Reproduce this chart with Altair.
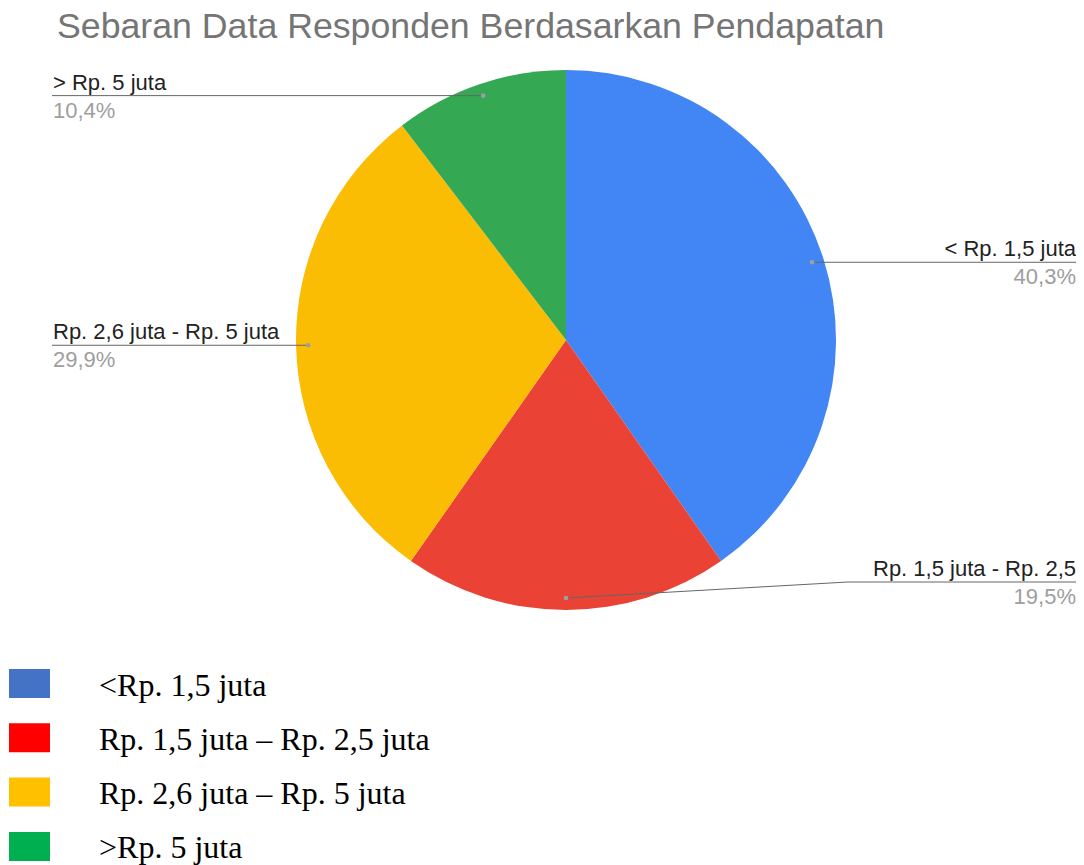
import altair as alt
import pandas as pd

# ---- data ----
categories = ["< Rp. 1,5 juta", "Rp. 1,5 juta - Rp. 2,5", "Rp. 2,6 juta - Rp. 5 juta", "> Rp. 5 juta"]
values = [40.3, 19.5, 29.9, 10.4]
pct_labels = ["40,3%", "19,5%", "29,9%", "10,4%"]
pie_colors = ["#4285F4", "#EA4335", "#FBBC04", "#34A853"]

legend_labels = ["<Rp. 1,5 juta", "Rp. 1,5 juta \u2013 Rp. 2,5 juta", "Rp. 2,6 juta \u2013 Rp. 5 juta", ">Rp. 5 juta"]
legend_colors = ["#4472C4", "#FF0000", "#FFC000", "#00B050"]

TITLE = "Sebaran Data Responden Berdasarkan Pendapatan"

# ---- layout constants ----
W, H = 1068, 807
CX, CY, R = 558, 282, 270
DOT_R = 258
LINE_MAX_Y = 524
LEFT_X = 44

df = pd.DataFrame({"cat": categories, "value": values, "pct": pct_labels, "idx": list(range(len(values)))})
leg = pd.DataFrame({"label": legend_labels, "color": legend_colors, "idx": list(range(len(legend_labels)))})

base = alt.Chart(df)

pie = base.mark_arc(outerRadius=R).encode(
    theta=alt.Theta("value:Q", stack=True),
    color=alt.Color("cat:N", scale=alt.Scale(domain=categories, range=pie_colors), legend=None),
    order=alt.Order("idx:Q"),
    x=alt.value(CX),
    y=alt.value(CY),
)

geo = base.transform_joinaggregate(total="sum(value)").transform_window(
    cum="sum(value)", sort=[alt.SortField("idx")], frame=[None, 0]
).transform_calculate(
    mid="(datum.cum - datum.value/2)/datum.total",
).transform_calculate(
    ang="datum.mid*2*PI",
    side="datum.mid < 0.51 ? 1 : -1",
).transform_calculate(
    dotx=f"{CX} + {DOT_R}*sin(datum.ang)",
    doty=f"{CY} - {DOT_R}*cos(datum.ang)",
).transform_calculate(
    liney=f"min(datum.doty, {LINE_MAX_Y})",
    elbx=f"{CX} + datum.side*{R + 12}",
    endx=f"datum.side > 0 ? {W} : {LEFT_X}",
).transform_calculate(
    laby="datum.liney - 6",
    pcty="datum.liney + 22",
)

seg1 = geo.mark_rule(color="#666666", strokeWidth=1).encode(
    x=alt.X("dotx:Q", scale=None), y=alt.Y("doty:Q", scale=None),
    x2="elbx:Q", y2="liney:Q",
)
seg2 = geo.mark_rule(color="#666666", strokeWidth=1).encode(
    x=alt.X("elbx:Q", scale=None), y=alt.Y("liney:Q", scale=None),
    x2="endx:Q", y2="liney:Q",
)
dots = geo.mark_circle(color="#9e9e9e", size=22, opacity=1).encode(
    x=alt.X("dotx:Q", scale=None), y=alt.Y("doty:Q", scale=None),
)

def side_text(field, ycol, color, right):
    t = geo.transform_filter("datum.side > 0" if right else "datum.side < 0")
    return t.mark_text(
        align="right" if right else "left", baseline="alphabetic",
        font="Liberation Sans", fontSize=22, color=color,
        dx=0 if right else 1,
    ).encode(
        x=alt.X("endx:Q", scale=None), y=alt.Y(f"{ycol}:Q", scale=None),
        text=f"{field}:N",
    )

labels = [
    side_text("cat", "laby", "#222222", True),
    side_text("cat", "laby", "#222222", False),
    side_text("pct", "pcty", "#9e9e9e", True),
    side_text("pct", "pcty", "#9e9e9e", False),
]

# ---- separate legend (below chart) ----
legbase = alt.Chart(leg).transform_calculate(
    yc="625.5 + datum.idx*54.3",
).transform_calculate(
    y0="datum.yc - 14.5", y1="datum.yc + 14.5", ty="datum.yc + 12",
)
leg_sq = legbase.mark_rect().encode(
    x=alt.value(1), x2=alt.value(42),
    y=alt.Y("y0:Q", scale=None), y2="y1:Q",
    fill=alt.Fill("color:N", scale=None),
)
leg_tx = legbase.mark_text(
    align="left", baseline="alphabetic", font="Liberation Serif", fontSize=32, color="#000000"
).encode(
    x=alt.value(91), y=alt.Y("ty:Q", scale=None), text="label:N",
)

chart = alt.layer(pie, seg1, seg2, dots, *labels, leg_sq, leg_tx).properties(
    width=W, height=H,
    background="white",
    title=alt.TitleParams(
        TITLE, anchor="start", dx=49, offset=12, font="Liberation Sans",
        fontSize=35.7, fontWeight="normal", color="#757575",
    ),
    autosize=alt.AutoSizeParams(type="none"),
    padding={"left": 0, "top": 50, "right": 0, "bottom": 0},
).configure_view(stroke=None, strokeWidth=0)

chart.save("out.html", embed_options={"renderer": "svg", "actions": False})
